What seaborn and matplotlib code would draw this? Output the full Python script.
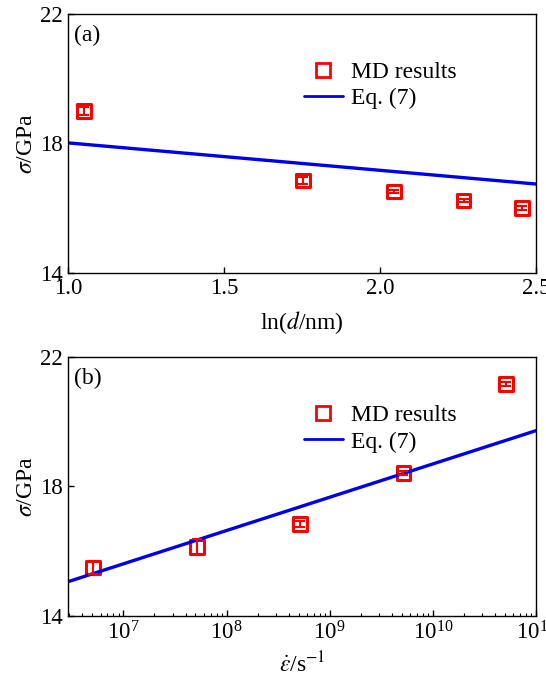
import numpy as np
import pandas as pd
import matplotlib
matplotlib.use("Agg")
import matplotlib.pyplot as plt
from matplotlib.lines import Line2D
import seaborn as sns

# (a) size dependence
ln_d = [1.05, 1.752, 2.045, 2.268, 2.455]
sigma_a = [19.0, 16.85, 16.51, 16.23, 16.0]
err_a = [0.13, 0.1, 0.06, 0.06, 0.06]
fit_a_x = [1.0, 2.5]
fit_a_y = [18.01, 16.74]

# (b) strain-rate dependence
rate = [5.1e6, 5.2e7, 5.2e8, 5.2e9, 5.1e10]
sigma_b = [15.5, 16.14, 16.84, 18.42, 21.15]
err_b = [0.2, 0.25, 0.1, 0.06, 0.06]
fit_b_x = [2.9e6, 1e11]
fit_b_y = [15.06, 19.72]

sns.set_theme(style="ticks")
plt.rcParams["font.family"] = ["Liberation Serif", "DejaVu Serif"]
plt.rcParams["mathtext.fontset"] = "stix"
plt.rcParams["axes.linewidth"] = 1.0
plt.rcParams["xtick.direction"] = "in"
plt.rcParams["ytick.direction"] = "in"
plt.rcParams["text.color"] = "black"
plt.rcParams["axes.labelcolor"] = "black"
plt.rcParams["xtick.color"] = "black"
plt.rcParams["ytick.color"] = "black"

fig = plt.figure(figsize=(5.46, 6.77), dpi=100)
ax1 = fig.add_axes([0.1245, 0.597, 0.857, 0.383])
ax2 = fig.add_axes([0.1245, 0.090, 0.857, 0.383])

red = "#ff0000"
blue = "#0000ee"
fs_tick = 16.5
fs = 17


def panel(ax, x, y, err, fx, fy, tag):
    sns.lineplot(x=fx, y=fy, ax=ax, color=blue, lw=2.4, legend=False)
    ax.errorbar(x, y, yerr=err, fmt="none", ecolor=red, elinewidth=1.5,
                capsize=3.5, capthick=1.5)
    sns.scatterplot(x=x, y=y, ax=ax, marker="s", s=100, facecolor="none",
                    edgecolor=red, linewidth=2.2, legend=False)
    ax.set_ylim(14, 22)
    ax.set_yticks([14, 18, 22])
    ax.set_ylabel(r"$\sigma$/GPa", fontsize=fs, labelpad=2)
    ax.tick_params(labelsize=fs_tick, length=4, width=1, pad=4)
    ax.tick_params(which="minor", length=2.5, width=0.8)
    for s in ax.spines.values():
        s.set_color("black")
    ax.text(0.012, 0.915, tag, transform=ax.transAxes, fontsize=fs,
            va="center", ha="left")
    handles = [
        Line2D([], [], ls="none", marker="s", ms=10, mfc="none", mec=red, mew=2),
        Line2D([], [], color=blue, lw=2),
    ]
    ax.legend(handles, ["MD results", "Eq. (7)"], loc="upper left",
              bbox_to_anchor=(0.504, 0.815), frameon=False, fontsize=fs,
              handlelength=1.65, handletextpad=0.35, borderaxespad=0,
              borderpad=0, labelspacing=0.2)


panel(ax1, ln_d, sigma_a, err_a, fit_a_x, fit_a_y, "(a)")
ax1.set_xlim(1.0, 2.5)
ax1.set_xticks([1.0, 1.5, 2.0, 2.5])
ax1.set_xticklabels(["1.0", "1.5", "2.0", "2.5"])
ax1.set_xlabel(r"ln($\mathit{d}$/nm)", fontsize=fs, labelpad=7)

panel(ax2, rate, sigma_b, err_b, fit_b_x, fit_b_y, "(b)")
ax2.set_xscale("log")
ax2.set_xlim(2.9e6, 1e11)
ax2.set_xlabel(r"$\dot{\varepsilon}$/s$^{-1}$", fontsize=fs, labelpad=5)

fig.savefig("out.png", dpi=100)
